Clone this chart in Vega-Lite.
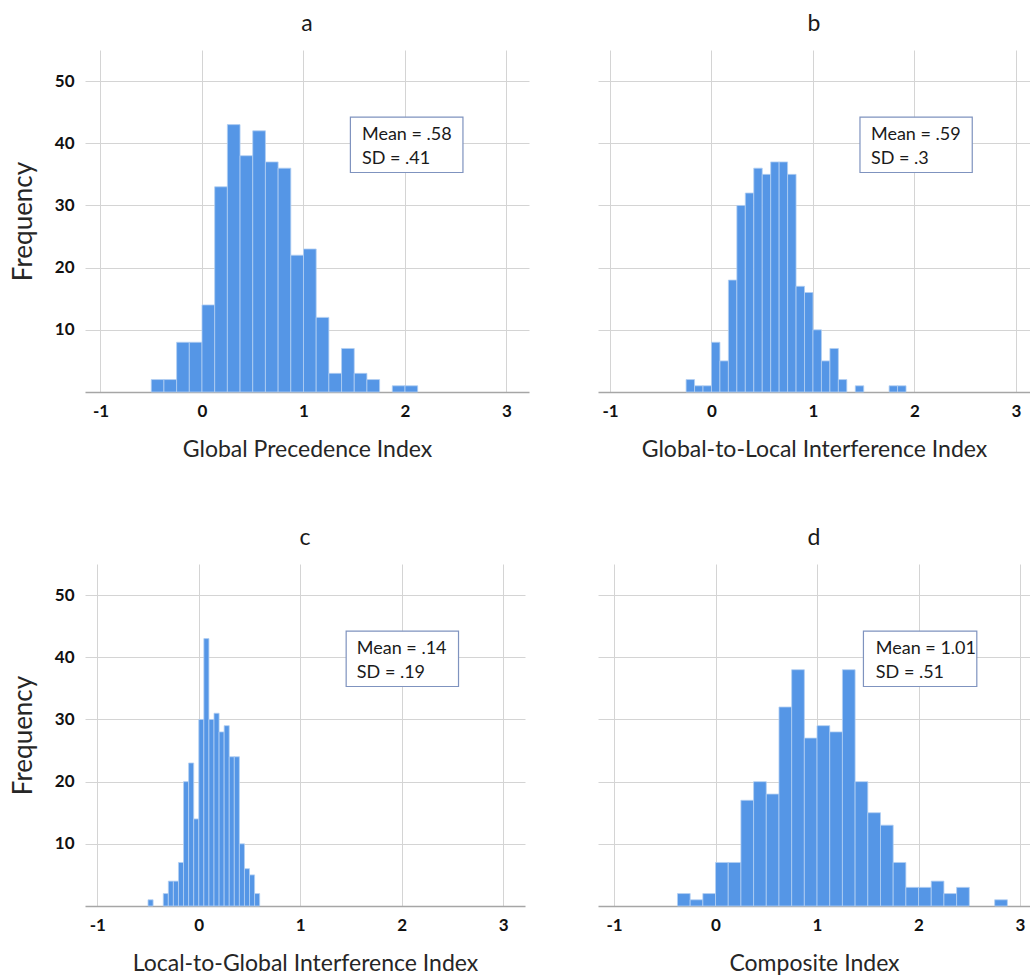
{
  "$schema": "https://vega.github.io/schema/vega-lite/v6.json",
  "autosize": "none",
  "padding": {"left": 85, "top": 50, "right": 945, "bottom": 929},
  "background": "white",
  "columns": 2,
  "spacing": {"row": 172, "column": 69},
  "bounds": "flush",
  "datasets": {
    "a": [
      {"x0": -0.5, "x1": -0.375, "n": 2},
      {"x0": -0.375, "x1": -0.25, "n": 2},
      {"x0": -0.25, "x1": -0.125, "n": 8},
      {"x0": -0.125, "x1": 0, "n": 8},
      {"x0": 0, "x1": 0.125, "n": 14},
      {"x0": 0.125, "x1": 0.25, "n": 33},
      {"x0": 0.25, "x1": 0.375, "n": 43},
      {"x0": 0.375, "x1": 0.5, "n": 38},
      {"x0": 0.5, "x1": 0.625, "n": 42},
      {"x0": 0.625, "x1": 0.75, "n": 37},
      {"x0": 0.75, "x1": 0.875, "n": 36},
      {"x0": 0.875, "x1": 1.0, "n": 22},
      {"x0": 1.0, "x1": 1.125, "n": 23},
      {"x0": 1.125, "x1": 1.25, "n": 12},
      {"x0": 1.25, "x1": 1.375, "n": 3},
      {"x0": 1.375, "x1": 1.5, "n": 7},
      {"x0": 1.5, "x1": 1.625, "n": 3},
      {"x0": 1.625, "x1": 1.75, "n": 2},
      {"x0": 1.875, "x1": 2.0, "n": 1},
      {"x0": 2.0, "x1": 2.125, "n": 1}
    ],
    "b": [
      {"x0": -0.25, "x1": -0.1667, "n": 2},
      {"x0": -0.1667, "x1": -0.0833, "n": 1},
      {"x0": -0.0833, "x1": 0, "n": 1},
      {"x0": 0, "x1": 0.0833, "n": 8},
      {"x0": 0.0833, "x1": 0.1667, "n": 5},
      {"x0": 0.1667, "x1": 0.25, "n": 18},
      {"x0": 0.25, "x1": 0.3333, "n": 30},
      {"x0": 0.3333, "x1": 0.4167, "n": 32},
      {"x0": 0.4167, "x1": 0.5, "n": 36},
      {"x0": 0.5, "x1": 0.5833, "n": 35},
      {"x0": 0.5833, "x1": 0.6667, "n": 37},
      {"x0": 0.6667, "x1": 0.75, "n": 37},
      {"x0": 0.75, "x1": 0.8333, "n": 35},
      {"x0": 0.8333, "x1": 0.9167, "n": 17},
      {"x0": 0.9167, "x1": 1.0, "n": 16},
      {"x0": 1.0, "x1": 1.0833, "n": 10},
      {"x0": 1.0833, "x1": 1.1667, "n": 5},
      {"x0": 1.1667, "x1": 1.25, "n": 7},
      {"x0": 1.25, "x1": 1.3333, "n": 2},
      {"x0": 1.4167, "x1": 1.5, "n": 1},
      {"x0": 1.75, "x1": 1.8333, "n": 1},
      {"x0": 1.8333, "x1": 1.9167, "n": 1}
    ],
    "c": [
      {"x0": -0.5, "x1": -0.45, "n": 1},
      {"x0": -0.35, "x1": -0.3, "n": 2},
      {"x0": -0.3, "x1": -0.25, "n": 4},
      {"x0": -0.25, "x1": -0.2, "n": 4},
      {"x0": -0.2, "x1": -0.15, "n": 7},
      {"x0": -0.15, "x1": -0.1, "n": 20},
      {"x0": -0.1, "x1": -0.05, "n": 23},
      {"x0": -0.05, "x1": 0, "n": 14},
      {"x0": 0, "x1": 0.05, "n": 30},
      {"x0": 0.05, "x1": 0.1, "n": 43},
      {"x0": 0.1, "x1": 0.15, "n": 30},
      {"x0": 0.15, "x1": 0.2, "n": 31},
      {"x0": 0.2, "x1": 0.25, "n": 28},
      {"x0": 0.25, "x1": 0.3, "n": 29},
      {"x0": 0.3, "x1": 0.35, "n": 24},
      {"x0": 0.35, "x1": 0.4, "n": 24},
      {"x0": 0.4, "x1": 0.45, "n": 10},
      {"x0": 0.45, "x1": 0.5, "n": 6},
      {"x0": 0.5, "x1": 0.55, "n": 5},
      {"x0": 0.55, "x1": 0.6, "n": 2}
    ],
    "d": [
      {"x0": -0.375, "x1": -0.25, "n": 2},
      {"x0": -0.25, "x1": -0.125, "n": 1},
      {"x0": -0.125, "x1": 0, "n": 2},
      {"x0": 0, "x1": 0.125, "n": 7},
      {"x0": 0.125, "x1": 0.25, "n": 7},
      {"x0": 0.25, "x1": 0.375, "n": 17},
      {"x0": 0.375, "x1": 0.5, "n": 20},
      {"x0": 0.5, "x1": 0.625, "n": 18},
      {"x0": 0.625, "x1": 0.75, "n": 32},
      {"x0": 0.75, "x1": 0.875, "n": 38},
      {"x0": 0.875, "x1": 1.0, "n": 27},
      {"x0": 1.0, "x1": 1.125, "n": 29},
      {"x0": 1.125, "x1": 1.25, "n": 28},
      {"x0": 1.25, "x1": 1.375, "n": 38},
      {"x0": 1.375, "x1": 1.5, "n": 20},
      {"x0": 1.5, "x1": 1.625, "n": 15},
      {"x0": 1.625, "x1": 1.75, "n": 13},
      {"x0": 1.75, "x1": 1.875, "n": 7},
      {"x0": 1.875, "x1": 2.0, "n": 3},
      {"x0": 2.0, "x1": 2.125, "n": 3},
      {"x0": 2.125, "x1": 2.25, "n": 4},
      {"x0": 2.25, "x1": 2.375, "n": 2},
      {"x0": 2.375, "x1": 2.5, "n": 3},
      {"x0": 2.75, "x1": 2.875, "n": 1}
    ]
  },
  "concat": [
    {
      "width": 444, "height": 342,
      "title": {"text": "a"},
      "layer": [
        {
          "data": {"name": "a"},
          "mark": {"type": "rect", "color": "#5596e6", "stroke": "#b3cff2", "strokeWidth": 0.8},
          "encoding": {
            "x": {"field": "x0", "type": "quantitative", "scale": {"domain": [-1.1527, 3.2217], "nice": false, "zero": false}, "axis": {"values": [-1, 0, 1, 2, 3], "title": "Global Precedence Index"}},
            "x2": {"field": "x1"},
            "y": {"field": "n", "type": "quantitative", "scale": {"domain": [0, 55], "nice": false}, "axis": {"values": [10, 20, 30, 40, 50], "title": "Frequency"}},
            "y2": {"datum": 0}
          }
        },
        {
          "data": {"values": [{}]},
          "mark": {"type": "rect", "fill": "white", "stroke": "#7f93bf", "strokeWidth": 1.2},
          "encoding": {"x": {"datum": 1.462}, "x2": {"datum": 2.571}, "y": {"datum": 44.2}, "y2": {"datum": 35.3}}
        },
        {
          "data": {"values": [{"t": "Mean = .58", "v": 40.5}, {"t": "SD = .41", "v": 36.6}]},
          "mark": {"type": "text", "align": "left", "baseline": "alphabetic", "font": "Lato", "fontSize": 18, "color": "#1a1a1a"},
          "encoding": {"x": {"datum": 1.576}, "y": {"field": "v", "type": "quantitative"}, "text": {"field": "t"}}
        }
      ]
    },
    {
      "width": 432, "height": 342,
      "title": {"text": "b"},
      "layer": [
        {
          "data": {"name": "b"},
          "mark": {"type": "rect", "color": "#5596e6", "stroke": "#b3cff2", "strokeWidth": 0.8},
          "encoding": {
            "x": {"field": "x0", "type": "quantitative", "scale": {"domain": [-1.118, 3.138], "nice": false, "zero": false}, "axis": {"values": [-1, 0, 1, 2, 3], "title": "Global-to-Local Interference Index"}},
            "x2": {"field": "x1"},
            "y": {"field": "n", "type": "quantitative", "scale": {"domain": [0, 55], "nice": false}, "axis": {"values": [10, 20, 30, 40, 50], "labels": false, "title": null}},
            "y2": {"datum": 0}
          }
        },
        {
          "data": {"values": [{}]},
          "mark": {"type": "rect", "fill": "white", "stroke": "#7f93bf", "strokeWidth": 1.2},
          "encoding": {"x": {"datum": 1.463}, "x2": {"datum": 2.569}, "y": {"datum": 44.2}, "y2": {"datum": 35.3}}
        },
        {
          "data": {"values": [{"t": "Mean = .59", "v": 40.5}, {"t": "SD = .3", "v": 36.6}]},
          "mark": {"type": "text", "align": "left", "baseline": "alphabetic", "font": "Lato", "fontSize": 18, "color": "#1a1a1a"},
          "encoding": {"x": {"datum": 1.571}, "y": {"field": "v", "type": "quantitative"}, "text": {"field": "t"}}
        }
      ]
    },
    {
      "width": 440, "height": 342,
      "title": {"text": "c"},
      "layer": [
        {
          "data": {"name": "c"},
          "mark": {"type": "rect", "color": "#5596e6", "stroke": "#b3cff2", "strokeWidth": 0.8},
          "encoding": {
            "x": {"field": "x0", "type": "quantitative", "scale": {"domain": [-1.121, 3.214], "nice": false, "zero": false}, "axis": {"values": [-1, 0, 1, 2, 3], "title": "Local-to-Global Interference Index"}},
            "x2": {"field": "x1"},
            "y": {"field": "n", "type": "quantitative", "scale": {"domain": [0, 55], "nice": false}, "axis": {"values": [10, 20, 30, 40, 50], "title": "Frequency"}},
            "y2": {"datum": 0}
          }
        },
        {
          "data": {"values": [{}]},
          "mark": {"type": "rect", "fill": "white", "stroke": "#7f93bf", "strokeWidth": 1.2},
          "encoding": {"x": {"datum": 1.452}, "x2": {"datum": 2.559}, "y": {"datum": 44.2}, "y2": {"datum": 35.3}}
        },
        {
          "data": {"values": [{"t": "Mean = .14", "v": 40.5}, {"t": "SD = .19", "v": 36.6}]},
          "mark": {"type": "text", "align": "left", "baseline": "alphabetic", "font": "Lato", "fontSize": 18, "color": "#1a1a1a"},
          "encoding": {"x": {"datum": 1.557}, "y": {"field": "v", "type": "quantitative"}, "text": {"field": "t"}}
        }
      ]
    },
    {
      "width": 432, "height": 342,
      "title": {"text": "d"},
      "layer": [
        {
          "data": {"name": "d"},
          "mark": {"type": "rect", "color": "#5596e6", "stroke": "#b3cff2", "strokeWidth": 0.8},
          "encoding": {
            "x": {"field": "x0", "type": "quantitative", "scale": {"domain": [-1.158, 3.098], "nice": false, "zero": false}, "axis": {"values": [-1, 0, 1, 2, 3], "title": "Composite Index"}},
            "x2": {"field": "x1"},
            "y": {"field": "n", "type": "quantitative", "scale": {"domain": [0, 55], "nice": false}, "axis": {"values": [10, 20, 30, 40, 50], "labels": false, "title": null}},
            "y2": {"datum": 0}
          }
        },
        {
          "data": {"values": [{}]},
          "mark": {"type": "rect", "fill": "white", "stroke": "#7f93bf", "strokeWidth": 1.2},
          "encoding": {"x": {"datum": 1.457}, "x2": {"datum": 2.574}, "y": {"datum": 44.2}, "y2": {"datum": 35.3}}
        },
        {
          "data": {"values": [{"t": "Mean = 1.01", "v": 40.5}, {"t": "SD = .51", "v": 36.6}]},
          "mark": {"type": "text", "align": "left", "baseline": "alphabetic", "font": "Lato", "fontSize": 18, "color": "#1a1a1a"},
          "encoding": {"x": {"datum": 1.579}, "y": {"field": "v", "type": "quantitative"}, "text": {"field": "t"}}
        }
      ]
    }
  ],
  "config": {
    "view": {"stroke": null},
    "font": "Lato",
    "title": {"font": "Lato", "fontSize": 23, "fontWeight": "normal", "color": "#1a1a1a", "offset": 14, "anchor": "middle"},
    "axis": {
      "labelFont": "Lato", "labelFontSize": 17, "labelFontWeight": "bold", "labelColor": "#111111",
      "labelExpr": "'' + datum.value",
      "titleFont": "Lato", "titleFontWeight": "normal", "titleColor": "#262626",
      "grid": true, "gridColor": "#d4d4d4", "gridWidth": 1,
      "ticks": false, "tickSize": 0, "domain": false, "labelFlush": false
    },
    "axisX": {"domain": true, "domainColor": "#a6a6a6", "domainWidth": 1.6, "labelPadding": 11, "titlePadding": 19, "titleFontSize": 23},
    "axisY": {"labelPadding": 11, "titlePadding": 18, "titleFontSize": 26}
  }
}
